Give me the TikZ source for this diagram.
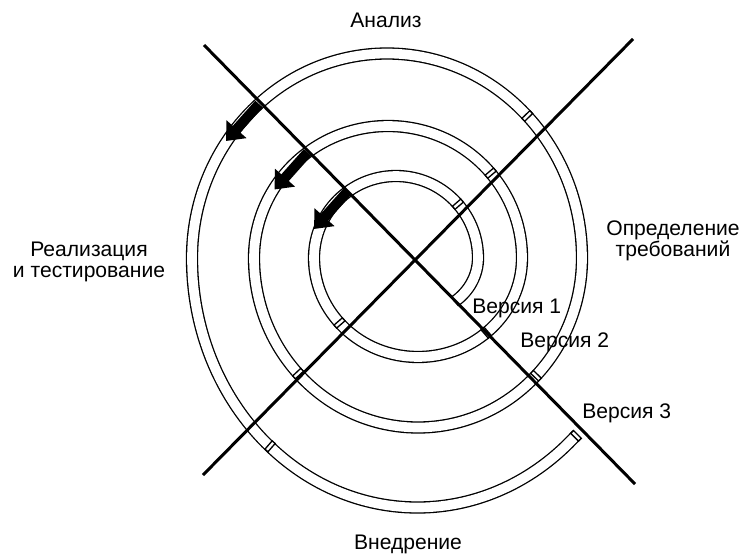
\documentclass[tikz,border=0pt]{standalone}
\usepackage{fontspec}
\setmainfont{Liberation Sans}
\usetikzlibrary{arrows.meta}

\begin{document}
\begin{tikzpicture}[x=0.02cm,y=0.02cm,
  band/.style={line width=0.75pt,double=white,double distance=5.5pt},
  sepbar/.style={draw,fill=white,line width=0.75pt},
  axis/.style={line width=1.7pt},
  turn/.style={line width=5.7pt,-{Triangle[width=14.7pt,length=9pt]}},
  lbl/.style={inner sep=0pt,font=\fontsize{12}{12}\selectfont}]
  \useasboundingbox (0,0) rectangle (746,556);
  \coordinate (c) at (415,296);
  % спираль версий: полуэллипсы сверху и снизу
  \draw[band] ({418+60*cos(-52)},{298+55*sin(-52)})
    arc[start angle=-52,end angle=0,x radius=60,y radius=55]
    arc[start angle=0,end angle=180,x radius=82,y radius=82]
    arc[start angle=180,end angle=360,x radius=104,y radius=99]
    arc[start angle=0,end angle=180,x radius=134,y radius=132]
    arc[start angle=180,end angle=360,x radius=164,y radius=169.5]
    arc[start angle=0,end angle=180,x radius=195,y radius=204.5]
    arc[start angle=180,end angle=315,x radius=225.5,y radius=249.5];
  % разделители фаз (центр x / радиусы / угол)
  \foreach \bx/\brx/\bry/\ba in {396/82/82/41, 418/104/99/221, 418/104/99/311,
      388/134/132/40, 418/164/169.5/223, 418/164/169.5/316,
      387/195/204.5/44, 418/225.5/249.5/229}
    {\draw[sepbar,shift={({\bx+\brx*cos(\ba)},{298+\bry*sin(\ba)})},rotate=\ba]
      (-5.5,-2) rectangle (5.5,2);}
  % концы спирали
  \draw[line width=0.75pt,shift={({418+60*cos(-52)},{298+55*sin(-52)})},rotate=-52]
    (-5.5,0) -- (5.5,0);
  \draw[sepbar,shift={({418+225.5*cos(315)},{298+249.5*sin(315)})},rotate=315]
    (-5.5,-4) rectangle (5.5,0);
  % стрелки направления
  \coordinate (t1) at (347,364);
  \coordinate (t2) at (307.5,403.5);
  \coordinate (t3) at (259,452);
  \foreach \tn in {t1,t2,t3}
    {\draw[turn] (\tn) -- ++(-33,-37);}
  % оси
  \coordinate (nw) at (204,511);
  \coordinate (se) at (635,72);
  \coordinate (ne) at (633,517);
  \coordinate (sw) at (203,81);
  \draw[axis] (nw) -- (se);
  \draw[axis] (ne) -- (sw);
  % подписи фаз
  \node[lbl,anchor=base] (analiz) at (386,529) {Анализ};
  \node[lbl,align=center] (realiz) at (89,294) {Реализация\\и тестирование};
  \node[lbl,align=center] (opred) at (673,315) {Определение\\требований};
  \node[lbl,anchor=base] (vnedr) at (408,7) {Внедрение};
  % подписи версий
  \node[lbl,anchor=base west] (v1) at (472,243) {Версия 1};
  \node[lbl,anchor=base west] (v2) at (520,209) {Версия 2};
  \node[lbl,anchor=base west] (v3) at (582,138) {Версия 3};
\end{tikzpicture}
\end{document}
